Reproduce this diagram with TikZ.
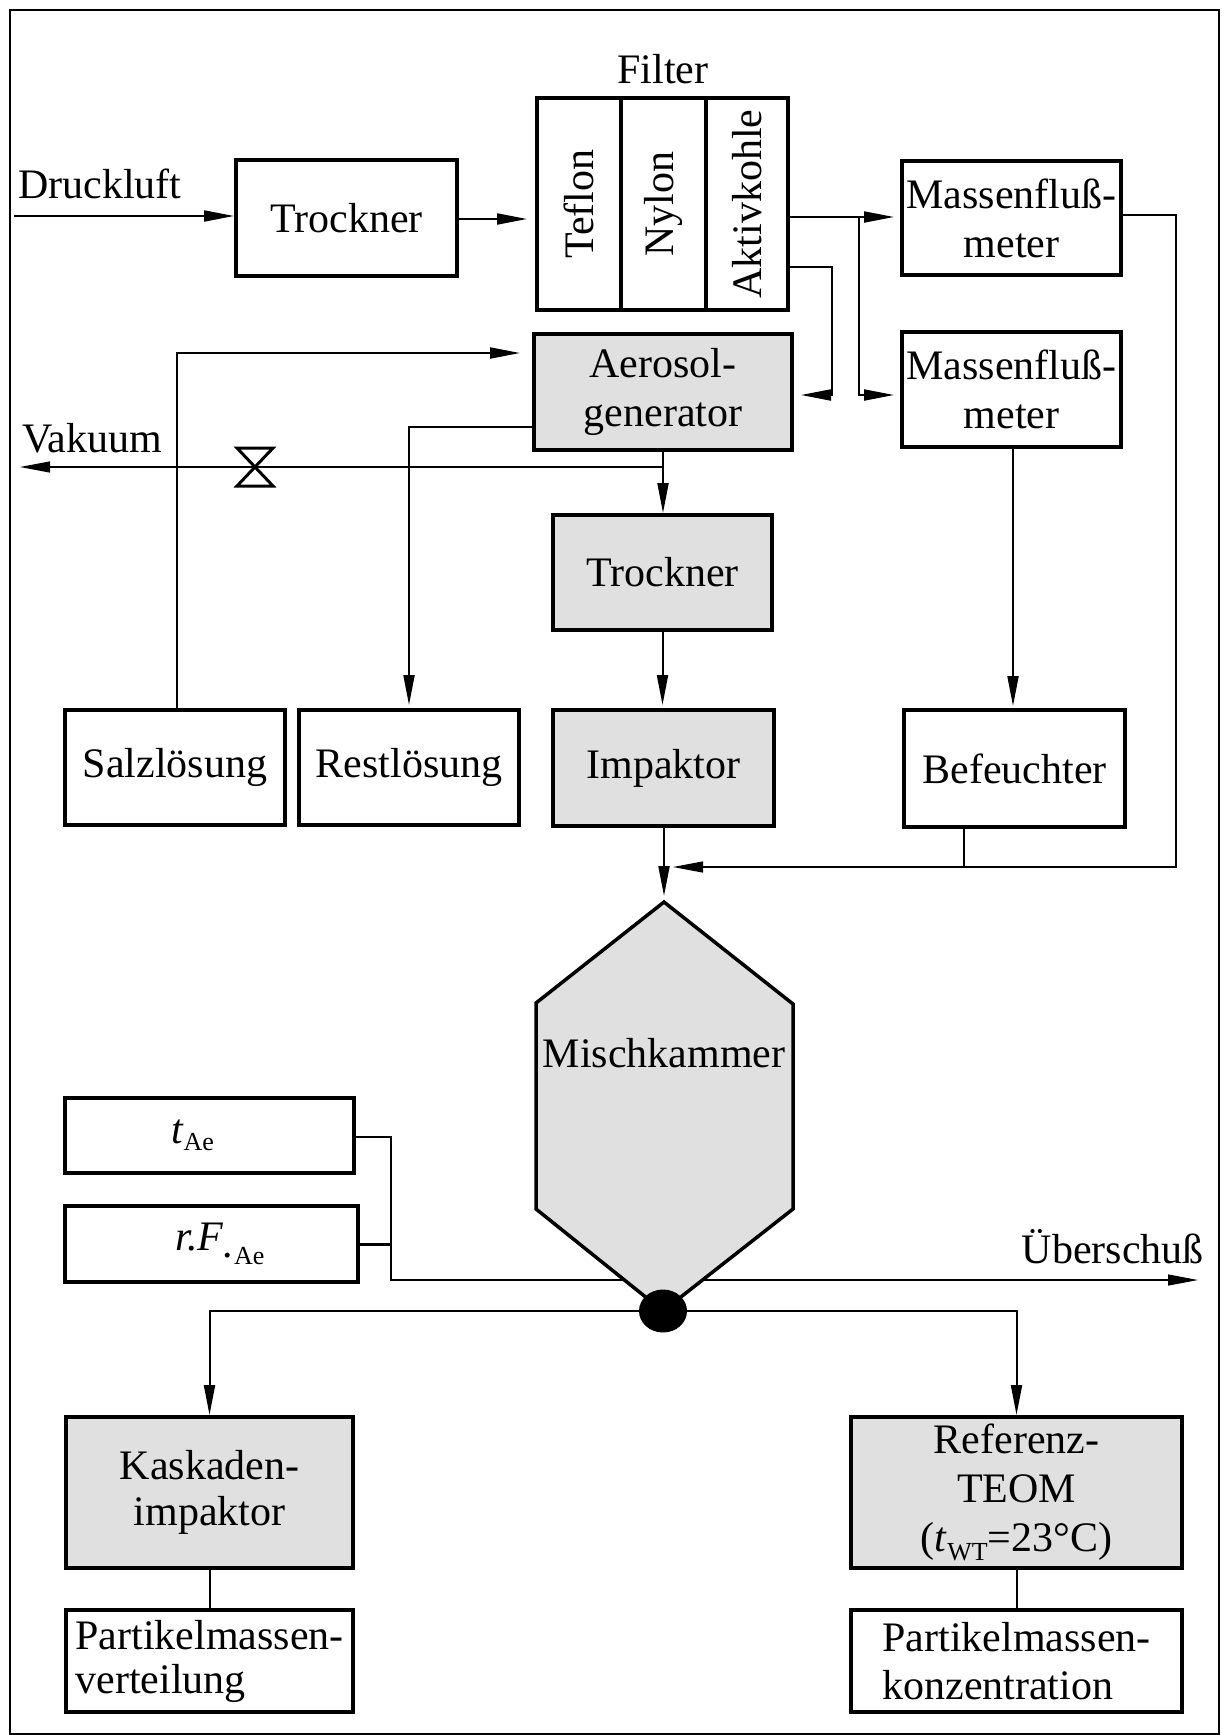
\documentclass[tikz,border=0pt]{standalone}
\usepackage{fontspec}
\setmainfont{Liberation Serif}
\usetikzlibrary{arrows.meta,shapes.geometric}
\definecolor{boxgray}{RGB}{224,224,224}
\newcommand\bigfont{\fontsize{42}{49}\selectfont}
\newcommand\subfont{\fontsize{26}{26}\selectfont}
\pgfdeclarelayer{bg}
\pgfsetlayers{bg,main}
\begin{document}
\begin{tikzpicture}[x=1pt,y=-1pt,
  box/.style={draw,line width=4pt,inner sep=0pt,align=center,font=\bigfont},
  gbox/.style={box,fill=boxgray},
  conn/.style={line width=2pt},
  thinconn/.style={line width=1.2pt},
  tip/.style={-{Triangle[length=30pt,width=11pt]}},
  lbl/.style={inner sep=0pt,font=\bigfont}]
\useasboundingbox (0,0) rectangle (1221,1735);
\draw[line width=2.5pt] (10,10) rectangle (1219,1734);

% boxes
\node[box,minimum width=221pt,minimum height=116pt] (tr1) at (346.5,218) {Trockner};
\node[box,minimum width=84pt,minimum height=212pt] (tef) at (579,204) {\rotatebox{90}{Teflon}};
\node[box,minimum width=85pt,minimum height=212pt] (nyl) at (663.5,204) {\rotatebox{90}{Nylon}};
\node[box,minimum width=82pt,minimum height=212pt] (akt) at (747,204) {\rotatebox{90}{Aktivkohle}};
\node[box,minimum width=219pt,minimum height=114pt] (mf1) at (1011.5,218) {Massenfluß-\\meter};
\node[box,minimum width=219pt,minimum height=115pt] (mf2) at (1011.5,389.5) {Massenfluß-\\meter};
\node[gbox,minimum width=258pt,minimum height=116pt] (aer) at (663,392) {Aerosol-\\generator};
\node[gbox,minimum width=219pt,minimum height=115pt] (tr2) at (662.5,572.5) {Trockner};
\node[box,minimum width=220pt,minimum height=115pt] (salz) at (175,767.5) {Salzlösung};
\node[box,minimum width=220pt,minimum height=115pt] (rest) at (409,767.5) {Restlösung};
\node[gbox,minimum width=221pt,minimum height=116pt] (imp) at (663.5,768) {Impaktor};
\node[box,minimum width=221pt,minimum height=117pt] (bef) at (1014.5,768.5) {Befeuchter};
\node[box,minimum width=289pt,minimum height=75pt] (tae) at (209.5,1135.5) {\textit{t}\raisebox{-7pt}{\subfont Ae}\kern34pt};
\node[box,minimum width=293pt,minimum height=76pt] (rf) at (211.5,1244) {\kern17pt\textit{r.F}\raisebox{-7pt}{\textit{.}}\raisebox{-14pt}{\subfont Ae}};
\node[gbox,minimum width=287pt,minimum height=151pt,font=\fontsize{42}{46}\selectfont] (kas) at (209.5,1492.5) {Kaskaden-\\impaktor};
\node[box,minimum width=287pt,minimum height=102pt,align=left,font=\fontsize{42}{44}\selectfont] (p1) at (209.5,1661) {Partikelmassen-\\verteilung};
\node[gbox,minimum width=331pt,minimum height=151pt] (ref) at (1016.5,1492.5) {Referenz-\\TEOM\\(\textit{t}\raisebox{-9pt}{\subfont WT}=23°C)};
\node[box,minimum width=331pt,minimum height=102pt,align=left,font=\fontsize{42}{48}\selectfont] (p2) at (1016.5,1661) {Partikelmassen-\\konzentration};

% labels
\node[lbl,anchor=base west] (tdl) at (18,198) {Druckluft};
\node[lbl,anchor=base west] (tvak) at (22,452) {Vakuum};
\node[lbl,anchor=base east] (tueb) at (1204,1263) {Überschuß};
\node[lbl,anchor=base] (tfil) at (663,83) {Filter};

% free ends
\coordinate (dl) at (14,216);
\coordinate (vak) at (20,467);
\coordinate (mixin) at (673,867);
\coordinate (ueb) at (1198,1280);
\coordinate (mkT) at (664,902);
\coordinate (mkB) at (663,1311);

% connectors
\draw[conn,tip] (dl) -- (tr1.west |- dl);
\draw[conn,tip,shorten >=8pt] (tr1.east |- 0,219) -- (tef.west |- 0,219);
\draw[conn,tip,shorten >=6pt] (akt.east |- 0,217) -- (mf1.west |- 0,217);
\draw[conn,tip,shorten >=6pt] (859,217) -- (859,395) -- (mf2.west |- 0,395);
\draw[conn,tip,shorten >=7pt] (akt.east |- 0,267) -- (832,267) -- (832,395) -- (aer.east |- 0,395);
\draw[thinconn,tip] (mf1.east |- 0,215) -- (1176,215) -- (1176,867) -- (mixin);
\draw[thinconn] (bef.south -| 964,0) -- (964,867);
\draw[conn,tip,shorten >=2pt] (mf2.south -| 1013,0) -- (bef.north -| 1013,0);
\draw[conn,tip,shorten >=6pt] (imp.south -| mkT) -- (mkT);
\draw[conn,tip] (aer.south) -- (aer.south |- tr2.north);
\draw[conn,tip,shorten >=3pt] (tr2.south) -- (tr2.south |- imp.north);
\draw[thinconn,tip] (aer.south |- vak) -- (vak);
\draw[conn,tip,shorten >=12pt] (salz.north -| 177,0) -- (177,353) -- (aer.west |- 0,353);
\draw[conn,tip,shorten >=3pt] (aer.west |- 0,427) -| (rest.north);
\begin{pgfonlayer}{bg}
\draw[thinconn,tip] (tae.east |- 0,1137) -- (391,1137) -- (391,1280) -- (ueb);
\end{pgfonlayer}
\draw[line width=3pt] (rf.east) -- (rf.east -| 390,0);
\draw[conn,tip] (mkB) -| (kas.north);
\draw[conn,tip] (mkB) -| (ref.north);
\draw[conn] (kas.south) -- (p1.north);
\draw[conn] (ref.south) -- (p2.north);

% valve
\draw[line width=3pt,fill=white,line join=miter] (237,448) -- (273,448) -- (255,467) -- cycle;
\draw[line width=3pt,fill=white,line join=miter] (237,486) -- (273,486) -- (255,467) -- cycle;

% mixing chamber
\draw[line width=3.5pt,fill=boxgray,line join=miter] (mkT) -- (793,1004) -- (793,1209) -- (mkB) -- (536,1209) -- (536,1003) -- cycle;
\node[lbl,anchor=base] (mktxt) at (664,1067) {Mischkammer};
\node[ellipse,fill=black,minimum width=48pt,minimum height=43pt,inner sep=0pt] (dot) at (mkB) {};
\end{tikzpicture}
\end{document}
